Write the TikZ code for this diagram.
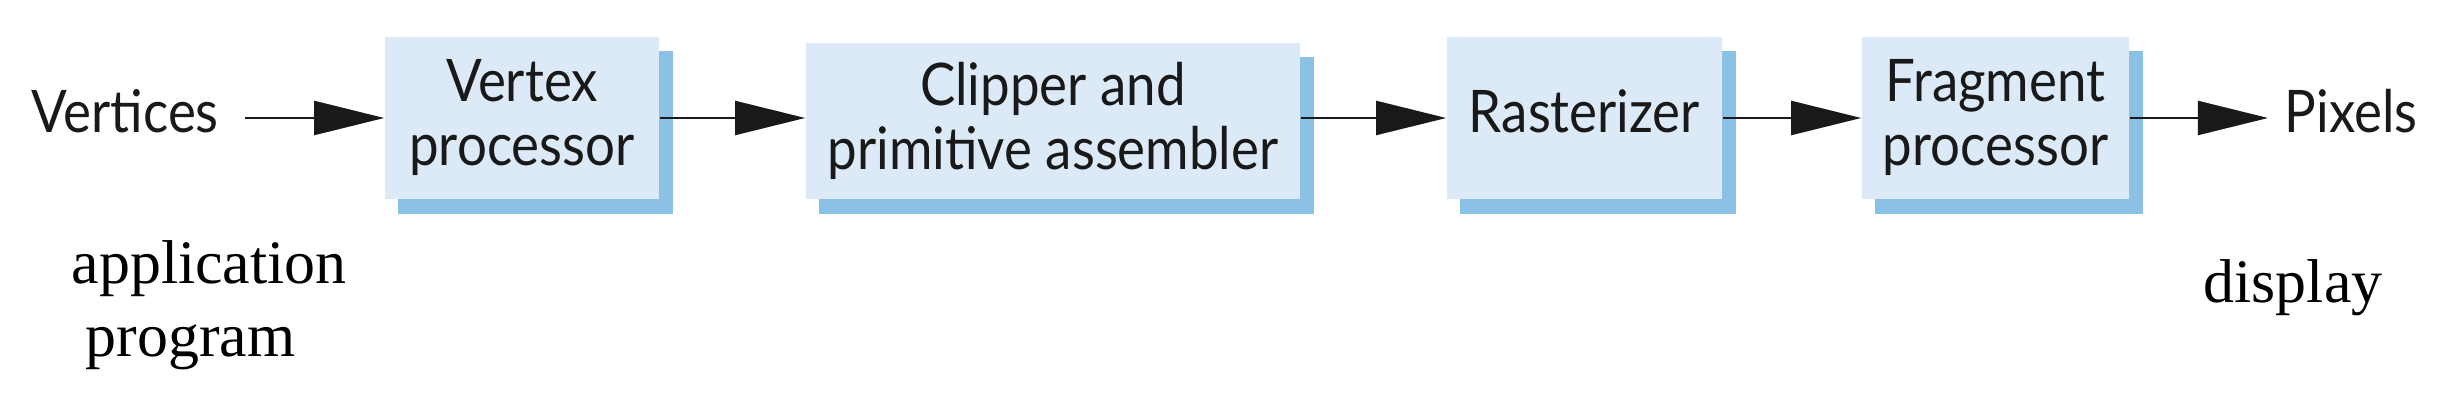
\documentclass[tikz,border=0pt]{standalone}
\usepackage{fontspec}
\setmainfont{Liberation Serif}
\newfontfamily\stagefont[FakeStretch=0.9]{Lato}
\usetikzlibrary{arrows.meta,shadows,calc}
\definecolor{boxfill}{RGB}{219,234,246}
\definecolor{boxshadow}{RGB}{139,193,229}
\definecolor{ink}{RGB}{25,25,25}
\begin{document}
\begin{tikzpicture}[x=0.01cm,y=-0.01cm,
  stage/.style={fill=boxfill, draw=none, inner sep=0, align=center,
    font=\stagefont\fontsize{16.7}{18.2}\selectfont, text=ink,
    general shadow={fill=boxshadow, shadow xshift=0.135cm, shadow yshift=-0.145cm}},
  flow/.style={draw=ink, line width=0.6pt, -{Triangle[length=0.7cm,width=0.34cm]}},
  endlabel/.style={font=\stagefont\fontsize{16.7}{18}\selectfont, text=ink, inner sep=0},
  note/.style={font=\fontsize{17.6}{21}\selectfont, inner sep=0, align=left}]
\useasboundingbox (0,0) rectangle (2448,404);
\node[endlabel, anchor=base west] (vtx) at (31,133) {Vertices};
\node[stage, minimum width=2.74cm, minimum height=1.62cm] (vp) at (522,118) {Vertex\\processor};
\node[stage, minimum width=4.94cm, minimum height=1.56cm] (cl) at (1053,121) {Clipper and\\primitive assembler};
\node[stage, minimum width=2.75cm, minimum height=1.62cm] (ra) at (1584.5,118) {\rule[-0.14cm]{0pt}{0.14cm}Rasterizer};
\node[stage, minimum width=2.67cm, minimum height=1.62cm] (fp) at (1995.5,118) {Fragment\\processor};
\node[endlabel, anchor=base west] (pix) at (2284,133) {Pixels};
\node[note, anchor=base west] (app) at (71,357) {application\\\hspace*{0.14cm}program};
\node[note, anchor=base west] (disp) at (2203,303) {display};
\draw[flow] ($(vtx.east |- vp.west)+(26,0)$) -- (vp.west);
\draw[flow] (vp.east) -- (vp.east -| cl.west);
\draw[flow] (vp.east -| cl.east) -- (ra.west);
\draw[flow] (ra.east) -- (fp.west);
\draw[flow] (fp.east) -- ($(fp.east -| pix.west)-(16,0)$);
\end{tikzpicture}
\end{document}
